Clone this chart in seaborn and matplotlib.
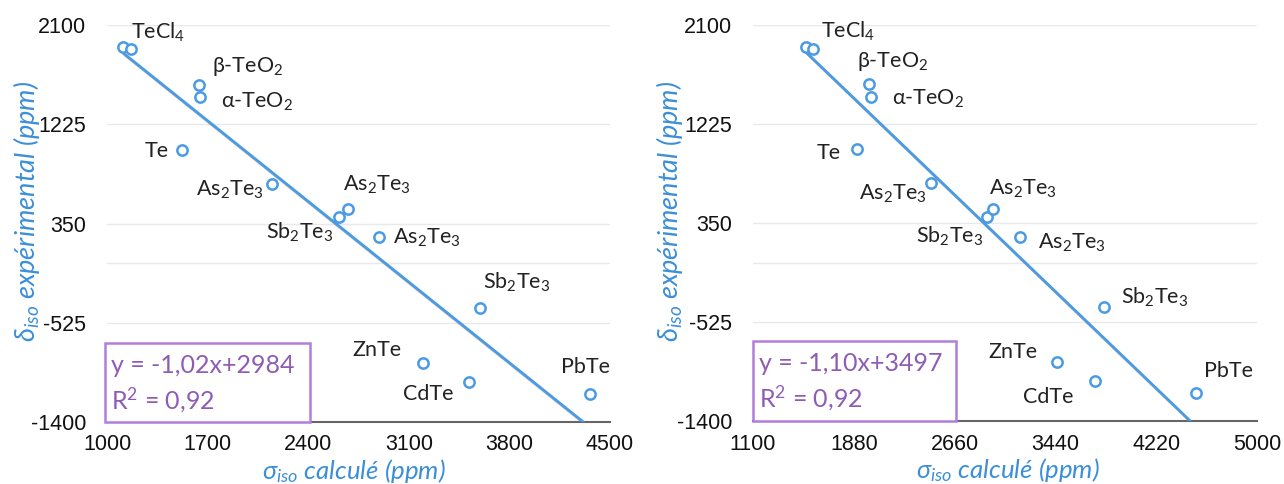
import matplotlib
matplotlib.use("Agg")
import matplotlib.pyplot as plt
import matplotlib.patheffects as pe
from matplotlib.patches import Rectangle
import seaborn as sns
import pandas as pd

# ---------------- data ----------------
compounds = ["TeCl$_4$", "TeCl$_4$", "β-TeO$_2$", "α-TeO$_2$", "Te", "As$_2$Te$_3$",
             "Sb$_2$Te$_3$", "As$_2$Te$_3$", "As$_2$Te$_3$", "Sb$_2$Te$_3$",
             "ZnTe", "CdTe", "PbTe"]
show_label = [False, True, True, True, True, True, True, True, True, True, True, True, True]
delta_exp = [1906, 1888, 1575, 1465, 1000, 700, 407, 477, 230, -396, -881, -1045, -1150]
sigma_left = [1111, 1167, 1640, 1647, 1522, 2148, 2614, 2677, 2893, 3596, 3199, 3519, 4361]
sigma_right = [1510, 1564, 1998, 2013, 1905, 2478, 2911, 2958, 3167, 3817, 3453, 3747, 4529]

y_ticks = [2100, 1225, 350, -525, -1400]
x_ticks_left = [1000, 1700, 2400, 3100, 3800, 4500]
x_ticks_right = [1100, 1880, 2660, 3440, 4220, 5000]

eq_left = ["y = -1,02x+2984", "R$^2$ = 0,92"]
eq_right = ["y = -1,10x+3497", "R$^2$ = 0,92"]

xlabel = "σ$_{\\mathit{iso}}$ calculé (ppm)"
ylabel = "δ$_{\\mathit{iso}}$ expérimental (ppm)"

# label offsets (pixels, screen: +x right, +y down)
off_left = [None, (27, -17), (49, -18), (57, 5), (-25, 1), (-42, 6), (-39, 15),
            (29, -24), (48, 1), (37, -26), (-46, -13), (-41, 12), (-5, -27)]
off_right = [None, (35, -18), (24, -23), (57, 2), (-28, 4), (-38, 10), (-37, 20),
             (30, -20), (52, 6), (51, -10), (-44, -10), (-47, 16), (32, -22)]

# ---------------- style ----------------
sns.set_theme(style="white")
plt.rcParams["font.family"] = ["Lato", "DejaVu Sans"]
plt.rcParams["mathtext.fontset"] = "custom"
plt.rcParams["mathtext.rm"] = "Lato"
plt.rcParams["mathtext.it"] = "Lato:italic"
plt.rcParams["mathtext.bf"] = "Lato:bold"
plt.rcParams["axes.unicode_minus"] = False

BLUE = "#4a9be3"
LBLUE = "#3b8ed8"
PURPLE_EDGE = "#b27ddb"
PURPLE_TEXT = "#8e5cb4"
GRID = "#e9e9e9"

fig = plt.figure(figsize=(12.84, 4.84), dpi=100)
axL = fig.add_axes([107 / 1284, 1 - 422 / 484, 503 / 1284, 397 / 484])
axR = fig.add_axes([753 / 1284, 1 - 421 / 484, 504 / 1284, 396 / 484])

panels = [
    (axL, sigma_left, x_ticks_left, off_left, eq_left, (-0.13, 0.53), (0.49, -0.088), (-0.004, 0.404, 0.199)),
    (axR, sigma_right, x_ticks_right, off_right, eq_right, (-0.135, 0.53), (0.506, -0.088), (0.0, 0.403, 0.203)),
]

for ax, sig, xt, offs, eq, ylc, xlc, box in panels:
    df = pd.DataFrame({"sigma": sig, "delta": delta_exp})
    for y in y_ticks[:-1] + [0]:
        ax.axhline(y, color=GRID, lw=1.0, zorder=0)
    sns.regplot(data=df, x="sigma", y="delta", ax=ax, ci=None, truncate=True,
                scatter=False, line_kws=dict(color=BLUE, lw=2.0, zorder=2))
    ln = ax.lines[-1]
    ln.set_path_effects([pe.SimpleLineShadow(offset=(1.2, -1.5), shadow_color="#888888", alpha=0.5),
                         pe.Normal()])
    sns.scatterplot(data=df, x="sigma", y="delta", ax=ax, marker="o", s=55,
                    facecolor="white", edgecolor=BLUE, linewidth=1.8, zorder=3)
    ax.set_xlim(xt[0], xt[-1])
    ax.set_ylim(y_ticks[-1], y_ticks[0])
    ax.set_xticks(xt)
    ax.set_yticks(y_ticks)
    ax.tick_params(axis="both", length=0, labelsize=15.5, colors="#111111")
    ax.tick_params(axis="y", pad=15)
    ax.tick_params(axis="x", pad=9)
    for lab in ax.get_xticklabels() + ax.get_yticklabels():
        lab.set_fontfamily(["Liberation Sans", "DejaVu Sans"])
    for s in ["left", "right", "top"]:
        ax.spines[s].set_visible(False)
    ax.spines["bottom"].set_color("#666666")
    ax.spines["bottom"].set_linewidth(1.5)
    ax.spines["bottom"].set_zorder(1)

    for name, xv, yv, show, off in zip(compounds, sig, delta_exp, show_label, offs):
        if not show:
            continue
        ax.annotate(name, (xv, yv), xytext=(off[0], -off[1]), textcoords="offset pixels",
                    ha="center", va="center", fontsize=15.5, color="#222222", zorder=4)

    ax.set_xlabel(xlabel, fontsize=18.5, color=LBLUE, fontstyle="italic")
    ax.set_ylabel(ylabel, fontsize=19.5, color=LBLUE, fontstyle="italic")
    ax.yaxis.set_label_coords(*ylc)
    ax.xaxis.set_label_coords(*xlc)

    bx0, bx1, by1 = box
    rect = Rectangle((bx0, 0.0), bx1 - bx0, by1, transform=ax.transAxes, fill=True,
                     facecolor="white", edgecolor=PURPLE_EDGE, lw=1.8, zorder=5, clip_on=False)
    ax.add_patch(rect)
    ax.text(bx0 + 0.012, by1 * 0.72, eq[0], transform=ax.transAxes, fontsize=18,
            color=PURPLE_TEXT, va="center", ha="left", zorder=6)
    ax.text(bx0 + 0.012, by1 * 0.28, eq[1], transform=ax.transAxes, fontsize=18,
            color=PURPLE_TEXT, va="center", ha="left", zorder=6)

fig.savefig("out.png", dpi=100)
